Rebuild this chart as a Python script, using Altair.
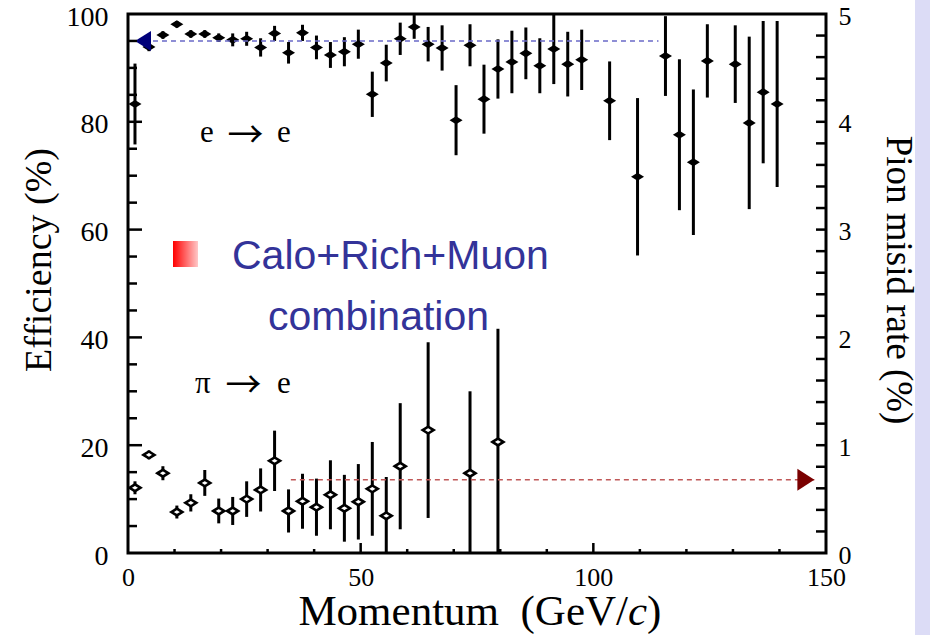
import altair as alt
import pandas as pd

# ---- electron identification efficiency, e -> e (%) ----
e_p = [1.5, 4.5, 7.5, 10.5, 13.5, 16.5, 19.5, 22.5, 25.5, 28.5, 31.5, 34.5, 37.5,
       40.5, 43.5, 46.5, 49.5, 52.5, 55.5, 58.5, 61.5, 64.5, 67.5, 70.5, 73.5,
       76.5, 79.5, 82.5, 85.5, 88.5, 91.5, 94.5, 97.5, 103.5, 109.5, 115.5,
       118.5, 121.5, 124.5, 130.5, 133.5, 136.5, 139.5]
e_eff = [83.3, 93.9, 96.1, 98.1, 96.3, 96.3, 95.6, 95.2, 95.4, 93.8, 96.4, 92.8, 96.5,
         93.8, 92.4, 93.0, 94.4, 85.1, 90.9, 95.4, 97.6, 94.4, 93.7, 80.3, 94.2,
         84.2, 89.8, 91.1, 92.7, 90.4, 93.5, 90.7, 91.5, 83.9, 69.8, 92.2,
         77.6, 72.5, 91.3, 90.7, 79.8, 85.5, 83.3]
e_err = [7.5, 0.8, 0.7, 0.6, 0.7, 0.7, 0.8, 1.2, 1.3, 1.7, 1.4, 2.0, 1.5,
         2.2, 2.4, 2.7, 2.7, 4.2, 3.4, 3.0, 2.2, 3.2, 4.2, 6.5, 3.9,
         6.4, 5.5, 5.8, 4.8, 5.1, 6.5, 6.0, 5.6, 7.3, 14.6, 7.4,
         14.0, 13.5, 6.8, 7.2, 16.0, 13.2, 15.4]

# ---- pion misidentification rate, pi -> e (%) ----
pi_p = [1.5, 4.5, 7.5, 10.5, 13.5, 16.5, 19.5, 22.5, 25.5, 28.5, 31.5, 34.5,
        37.5, 40.5, 43.5, 46.5, 49.5, 52.5, 55.5, 58.5, 64.5, 73.5, 79.5]
pi_rate = [0.605, 0.91, 0.74, 0.38, 0.465, 0.65, 0.39, 0.39, 0.50, 0.585, 0.855, 0.39,
           0.48, 0.425, 0.54, 0.415, 0.475, 0.595, 0.345, 0.805, 1.14, 0.74, 1.03]
pi_err = [0.06, 0.04, 0.065, 0.06, 0.08, 0.12, 0.115, 0.13, 0.165, 0.2, 0.28, 0.2,
          0.255, 0.265, 0.32, 0.31, 0.35, 0.435, 0.36, 0.585, 0.815, 0.76, 1.05]

# ---- reference levels (arrows + dashed guide lines) ----
eff_ref = 95.0
eff_ref_from, eff_ref_to = 1.5, 114.0
mis_ref = 0.68
mis_ref_from, mis_ref_to = 35.0, 147.5

# ---- axis tick positions ----
x_labels = [0, 50, 100, 150]
x_major = [50, 100]
x_minor = [10, 20, 30, 40, 60, 70, 80, 90, 110, 120, 130, 140]
yl_labels = [0, 20, 40, 60, 80, 100]
yl_major = [20, 40, 60, 80]
yl_minor = [5, 10, 15, 25, 30, 35, 45, 50, 55, 65, 70, 75, 85, 90, 95]
yr_labels = [0, 1, 2, 3, 4, 5]
yr_ticks = [0.2, 0.4, 0.6, 0.8, 1.0, 1.2, 1.4, 1.6, 1.8, 2.0, 2.2, 2.4,
            2.6, 2.8, 3.0, 3.2, 3.4, 3.6, 3.8, 4.0, 4.2, 4.4, 4.6, 4.8]

W, H = 698, 539
SERIF = "Liberation Serif"
SANS = "Liberation Sans"
ARROW_FONT = "Noto Sans CJK SC"
NBSP = "\u00a0"

e_df = pd.DataFrame({"p": e_p, "eff": e_eff, "err": e_err})
e_df["lo"] = e_df["eff"] - e_df["err"]
e_df["hi"] = e_df["eff"] + e_df["err"]
pi_df = pd.DataFrame({"p": pi_p, "rate": pi_rate, "err": pi_err})
pi_df["lo"] = pi_df["rate"] - pi_df["err"]
pi_df["hi"] = pi_df["rate"] + pi_df["err"]

x_scale = alt.Scale(domain=[0, 150], nice=False, zero=False)
yl_scale = alt.Scale(domain=[0, 100], nice=False, zero=False)
yr_scale = alt.Scale(domain=[0, 5], nice=False, zero=False)

label_style = dict(ticks=False, domain=False, grid=False, title=None,
                   labelFont=SERIF, labelColor="black", labelFlush=False)
x_axis = alt.Axis(values=x_labels, labelFontSize=26, labelPadding=11, **label_style)
yl_axis = alt.Axis(values=yl_labels, labelFontSize=28, labelPadding=20,
                   labelOffset=3, **label_style)
yr_axis = alt.Axis(values=yr_labels, orient="right", labelFontSize=26,
                   labelPadding=12, labelOffset=2, **label_style)


def X(field):
    return alt.X(field, type="quantitative", scale=x_scale, axis=x_axis)


def YL(field):
    return alt.Y(field, type="quantitative", scale=yl_scale, axis=yl_axis)


def YR(field):
    return alt.Y(field, type="quantitative", scale=yr_scale, axis=yr_axis)


flat_diamond = "M-1,0L0,-0.62L1,0L0,0.62Z"
arrow_left = "M0,0L2,-1.25L2,1.25Z"
arrow_right = "M0,0L-2,-1.3L-2,1.3Z"


def text_layer(label, x, y, size, font=SERIF, color="black", align="left",
               baseline="alphabetic", angle=0, style="normal"):
    return alt.Chart(pd.DataFrame({"label": [label]})).mark_text(
        font=font, fontSize=size, color=color, align=align, baseline=baseline,
        angle=angle, fontStyle=style
    ).encode(text="label:N", x=alt.value(x), y=alt.value(y))


# side band at the right edge of the page
band = alt.Chart(pd.DataFrame({"k": [0]})).mark_rect(color="#DCDCF6").encode(
    x=alt.value(787), x2=alt.value(805), y=alt.value(-14), y2=alt.value(621))

# --- efficiency group (left axis) ---
e_bars = alt.Chart(e_df).mark_rule(color="black", strokeWidth=3, clip=True).encode(
    x=X("p"), y=YL("lo"), y2="hi")
e_pts = alt.Chart(e_df).mark_point(shape=flat_diamond, filled=True, fill="black",
                                   opacity=1, size=170, strokeWidth=0).encode(
    x=X("p"), y=YL("eff"))

eff_ref_df = pd.DataFrame({"x0": [eff_ref_from], "x1": [eff_ref_to], "v": [eff_ref]})
eff_line = alt.Chart(eff_ref_df).mark_rule(color="#6A6AC8", strokeWidth=1.6,
                                           strokeDash=[5, 4]).encode(
    x=X("x0"), x2="x1", y=YL("v"))
eff_arrow = alt.Chart(eff_ref_df).mark_point(shape=arrow_left, filled=True,
                                             color="#00007A", opacity=1, size=256,
                                             strokeWidth=0).encode(
    x=X("x0"), y=YL("v"))

yl_major_ticks = alt.Chart(pd.DataFrame({"v": yl_major})).mark_rule(
    color="black", strokeWidth=2.5).encode(y=YL("v"), x=alt.value(0), x2=alt.value(14))
yl_minor_ticks = alt.Chart(pd.DataFrame({"v": yl_minor})).mark_rule(
    color="black", strokeWidth=2.5).encode(y=YL("v"), x=alt.value(0), x2=alt.value(9))
x_major_ticks = alt.Chart(pd.DataFrame({"v": x_major})).mark_rule(
    color="black", strokeWidth=2.5).encode(x=X("v"), y=alt.value(H), y2=alt.value(H - 10))
x_minor_ticks = alt.Chart(pd.DataFrame({"v": x_minor})).mark_rule(
    color="black", strokeWidth=2.5).encode(x=X("v"), y=alt.value(H), y2=alt.value(H - 4))

legend_box = alt.Chart(pd.DataFrame({"k": [0]})).mark_rect(
    fill=alt.LinearGradient(
        gradient="linear", x1=0, x2=1, y1=0, y2=0,
        stops=[alt.GradientStop(offset=0, color="#FF0000"),
               alt.GradientStop(offset=1, color="#FFC8C8")])
).encode(x=alt.value(45), x2=alt.value(70), y=alt.value(227), y2=alt.value(253))

texts = [
    # e -> e
    text_layer("e", 72, 128, 31),
    text_layer("\u2192", 117.5, 134, 36, font=ARROW_FONT, align="center"),
    text_layer("e", 149, 128, 31),
    # pi -> e
    text_layer("\u03c0", 67, 379, 31),
    text_layer("\u2192", 115.5, 384, 36, font=ARROW_FONT, align="center"),
    text_layer("e", 149, 379, 31),
    text_layer("Calo+Rich+Muon", 104, 255, 41, font=SANS, color="#333399"),
    text_layer("combination", 140, 316, 41, font=SANS, color="#333399"),
    text_layer("Efficiency" + NBSP + "(%)", -88, 246, 38, align="center",
               baseline="middle", angle=270),
    text_layer("Pion misid rate" + NBSP + "(%)", 770, 266, 37, align="center",
               baseline="middle", angle=90),
    text_layer("Momentum" + NBSP + NBSP + "(GeV/", 500, 611, 43, align="right"),
    text_layer("c", 500, 611, 43, style="italic"),
    text_layer(")", 519, 611, 43),
]

left_group = alt.layer(band, e_bars, e_pts, eff_line, eff_arrow,
                       yl_major_ticks, yl_minor_ticks, x_major_ticks, x_minor_ticks,
                       legend_box, *texts)

# --- misidentification group (right axis) ---
pi_bars = alt.Chart(pi_df).mark_rule(color="black", strokeWidth=3, clip=True).encode(
    x=X("p"), y=YR("lo"), y2="hi")
pi_pts = alt.Chart(pi_df).mark_point(shape=flat_diamond, filled=True, fill="white",
                                     stroke="black", strokeWidth=2.6, opacity=1,
                                     size=120).encode(
    x=X("p"), y=YR("rate"))

mis_ref_df = pd.DataFrame({"x0": [mis_ref_from], "x1": [mis_ref_to], "v": [mis_ref]})
mis_line = alt.Chart(mis_ref_df).mark_rule(color="#C05858", strokeWidth=1.6,
                                           strokeDash=[5, 4]).encode(
    x=X("x0"), x2="x1", y=YR("v"))
mis_arrow = alt.Chart(mis_ref_df).mark_point(shape=arrow_right, filled=True,
                                             color="#7A0000", opacity=1, size=289,
                                             strokeWidth=0).encode(
    x=X("x1"), y=YR("v"))
yr_tick_marks = alt.Chart(pd.DataFrame({"v": yr_ticks})).mark_rule(
    color="black", strokeWidth=2.5).encode(y=YR("v"), x=alt.value(W), x2=alt.value(W - 10))

right_group = alt.layer(pi_bars, pi_pts, mis_line, mis_arrow, yr_tick_marks)

chart = alt.layer(left_group, right_group).resolve_scale(y="independent").properties(
    width=W, height=H,
    autosize=alt.AutoSizeParams(type="none"),
    padding={"left": 128, "top": 14, "right": 104, "bottom": 82},
).configure(background="white").configure_view(stroke="black", strokeWidth=3)

chart.save("out.html", embed_options={"renderer": "svg", "actions": False})
